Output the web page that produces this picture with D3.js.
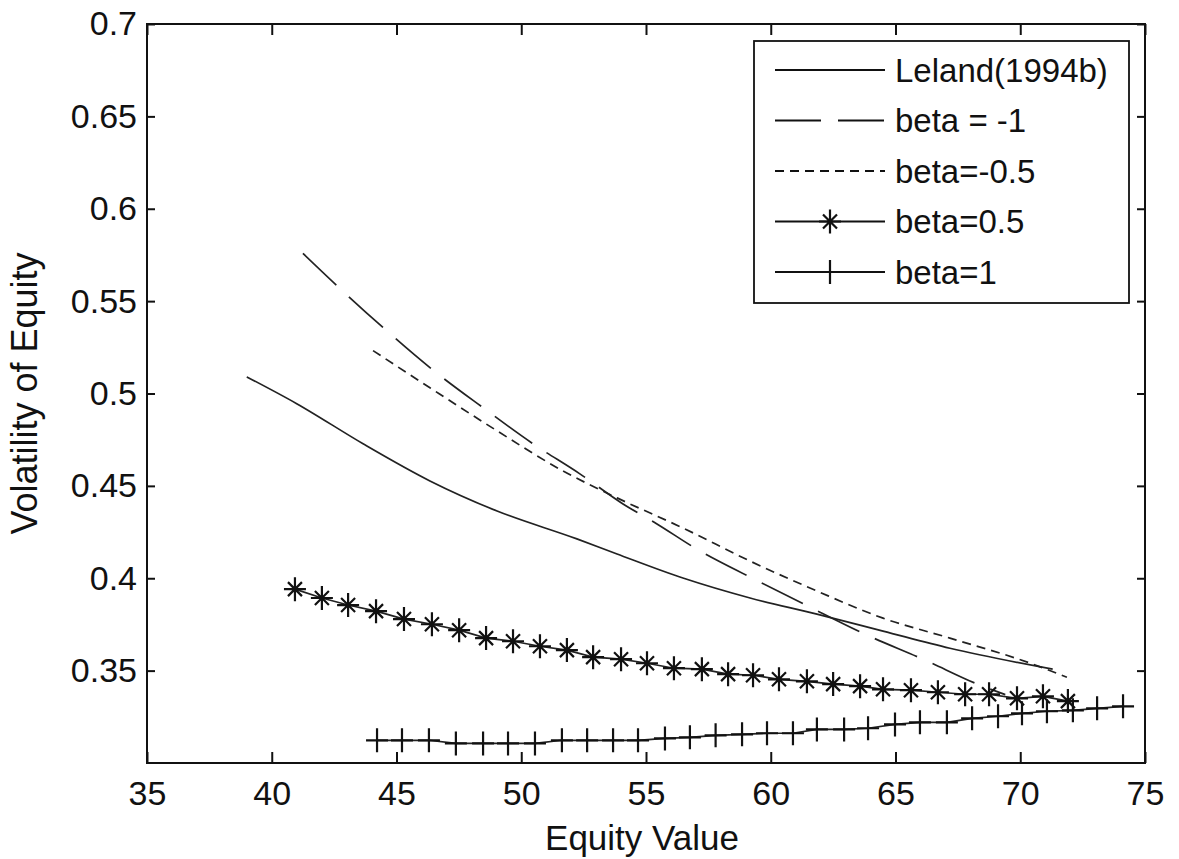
<!DOCTYPE html>
<html lang="en">
<head>
    <meta charset="UTF-8">
    <title>Volatility of Equity</title>
    <script src="https://d3js.org/d3.v7.min.js"></script>
    <style>
        body { margin: 0; background: white; }
        text {
            font-family: 'Liberation Sans', Arial, sans-serif;
            font-size: 33px;
            fill: #111;
        }
    </style>
</head>
<body>
<script>
    const width = 1179;
    const height = 859;
    const margin = {left: 147, right: 34, top: 24, bottom: 96};

    const xTicks = [35, 40, 45, 50, 55, 60, 65, 70, 75];
    const yTicks = [0.35, 0.4, 0.45, 0.5, 0.55, 0.6, 0.65, 0.7];

    // Leland(1994b)
    const lelandX = [39.0, 41.0, 43.66, 46.34, 49.03, 52.23, 53.84, 56.48, 59.17, 61.85, 64.5, 67.18, 71.3];
    const lelandY = [0.509, 0.4945, 0.4728, 0.4527, 0.4364, 0.4213, 0.4131, 0.4001, 0.3893, 0.3806, 0.3714, 0.3621, 0.3508];

    // beta = -1
    const betaM1X = [41.25, 42.6, 44.46, 46.34, 48.47, 50.47, 52.35, 54.08, 55.44, 56.96, 59.25, 61.49, 63.78, 66.1, 68.5, 69.4];
    const betaM1Y = [0.5758, 0.5585, 0.5357, 0.514, 0.4923, 0.4728, 0.4565, 0.4402, 0.4294, 0.4164, 0.4001, 0.3849, 0.3697, 0.3562, 0.3415, 0.337];

    // beta = -0.5
    const betaM05X = [44.06, 46.34, 49.03, 51.67, 53.84, 56.48, 59.17, 61.85, 64.5, 67.18, 70.51, 71.87];
    const betaM05Y = [0.5232, 0.5031, 0.4798, 0.4581, 0.4435, 0.4272, 0.4093, 0.3931, 0.3784, 0.3676, 0.3535, 0.3464];

    // beta = 0.5 (stars)
    const beta05X = [40.93, 42.01, 43.06, 44.18, 45.3, 46.42, 47.51, 48.59, 49.67, 50.75, 51.83, 52.88, 54.0, 55.04, 56.12,
                     57.24, 58.29, 59.29, 60.33, 61.45, 62.5, 63.58, 64.5, 65.62, 66.7, 67.79, 68.75, 69.87, 70.91, 71.91];
    const beta05Y = [0.3941, 0.3893, 0.3855, 0.3822, 0.3779, 0.3751, 0.3719, 0.3676, 0.3659, 0.3632, 0.3611, 0.3573, 0.3562, 0.354, 0.3513,
                     0.3508, 0.3481, 0.3475, 0.3453, 0.3442, 0.3427, 0.3416, 0.3399, 0.3394, 0.3383, 0.3372, 0.3372, 0.335, 0.3361, 0.3335];

    // beta = 1 (plus)
    const beta1X = [44.22, 45.22, 46.3, 47.38, 48.47, 49.47, 50.55, 51.63, 52.64, 53.68, 54.68, 55.76, 56.76, 57.79, 58.85,
                    59.85, 60.89, 61.85, 62.94, 63.9, 64.98, 65.98, 67.06, 68.07, 69.11, 70.07, 71.07, 72.11, 73.08, 74.12];
    const beta1Y = [0.3123, 0.3123, 0.3123, 0.3106, 0.3106, 0.3106, 0.3106, 0.3123, 0.3123, 0.3123, 0.3123, 0.3133, 0.3139, 0.315, 0.3155,
                    0.3161, 0.3161, 0.3182, 0.3182, 0.3188, 0.3209, 0.322, 0.322, 0.3242, 0.3253, 0.3269, 0.328, 0.3285, 0.3296, 0.3307];

    const legendLabels = ['Leland(1994b)', 'beta = -1', 'beta=-0.5', 'beta=0.5', 'beta=1'];

    const zip = (xs, ys) => xs.map((x, i) => ({x: x, y: ys[i]}));

    const series = [
        {name: legendLabels[0], data: zip(lelandX, lelandY), dash: null, marker: null},
        {name: legendLabels[1], data: zip(betaM1X, betaM1Y), dash: '46,17', marker: null},
        {name: legendLabels[2], data: zip(betaM05X, betaM05Y), dash: '9,6', marker: null},
        {name: legendLabels[3], data: zip(beta05X, beta05Y), dash: null, marker: 'star'},
        {name: legendLabels[4], data: zip(beta1X, beta1Y), dash: null, marker: 'plus'}
    ];

    const svg = d3.select('body').append('svg').attr('width', width).attr('height', height);

    const x = d3.scaleLinear().domain([35, 75]).range([margin.left, width - margin.right]);
    const y = d3.scaleLinear().domain([0.3, 0.7]).range([height - margin.bottom, margin.top]);

    const x0 = x.range()[0], x1 = x.range()[1];
    const y0 = y.range()[0], y1 = y.range()[1];

    // axes with inward ticks, MATLAB box style
    svg.append('g')
        .attr('transform', `translate(0,${y0})`)
        .call(d3.axisBottom(x).tickValues(xTicks).tickSize(-11).tickPadding(18).tickFormat(d3.format('d')))
        .call(g => g.select('.domain').remove());

    svg.append('g')
        .attr('transform', `translate(0,${y1})`)
        .call(d3.axisTop(x).tickValues(xTicks).tickSize(-11).tickFormat(''))
        .call(g => g.select('.domain').remove());

    svg.append('g')
        .attr('transform', `translate(${x0},0)`)
        .call(d3.axisLeft(y).tickValues(yTicks).tickSize(-8).tickPadding(10).tickFormat(d => d3.format('')(+d.toFixed(2))))
        .call(g => g.select('.domain').remove());

    svg.append('g')
        .attr('transform', `translate(${x1},0)`)
        .call(d3.axisRight(y).tickValues(yTicks).tickSize(-8).tickFormat(''))
        .call(g => g.select('.domain').remove());

    svg.selectAll('.tick line').attr('stroke', '#111').attr('stroke-width', 2);
    svg.selectAll('.tick text').style('font-size', '34px').attr('fill', '#111');

    svg.append('rect')
        .attr('x', x0).attr('y', y1)
        .attr('width', x1 - x0).attr('height', y0 - y1)
        .attr('fill', 'none').attr('stroke', '#111').attr('stroke-width', 2);

    // axis titles
    svg.append('text')
        .attr('x', (x0 + x1) / 2 - 4)
        .attr('y', 850)
        .attr('text-anchor', 'middle')
        .style('font-size', '35px')
        .text('Equity Value');

    svg.append('text')
        .attr('transform', `translate(37,${(y0 + y1) / 2}) rotate(-90)`)
        .attr('text-anchor', 'middle')
        .style('font-size', '36px')
        .text('Volatility of Equity');

    const smooth = d3.line().x(d => x(d.x)).y(d => y(d.y)).curve(d3.curveMonotoneX);
    const straight = d3.line().x(d => x(d.x)).y(d => y(d.y));

    const drawMarker = (g, type, cx, cy) => {
        const p = d3.path();
        if (type === 'star') {
            p.moveTo(cx, cy - 12); p.lineTo(cx, cy + 12);
            p.moveTo(cx - 11, cy); p.lineTo(cx + 11, cy);
            p.moveTo(cx - 7, cy - 7); p.lineTo(cx + 7, cy + 7);
            p.moveTo(cx - 7, cy + 7); p.lineTo(cx + 7, cy - 7);
        } else {
            p.moveTo(cx, cy - 12); p.lineTo(cx, cy + 12);
            p.moveTo(cx - 11, cy); p.lineTo(cx + 11, cy);
        }
        g.append('path').attr('d', p.toString())
            .attr('stroke', '#111').attr('stroke-width', 2.2).attr('fill', 'none');
    };

    const chart = svg.append('g');

    series.forEach(s => {
        chart.append('path')
            .datum(s.data)
            .attr('d', s.marker ? straight : smooth)
            .attr('fill', 'none')
            .attr('stroke', '#222')
            .attr('stroke-width', 1.7)
            .attr('stroke-dasharray', s.dash);
        if (s.marker) {
            const mg = chart.append('g');
            s.data.forEach(d => drawMarker(mg, s.marker, x(d.x), y(d.y)));
        }
    });

    // legend
    const legend = svg.append('g');
    legend.append('rect')
        .attr('x', 754).attr('y', 41)
        .attr('width', 375).attr('height', 262)
        .attr('fill', 'white').attr('stroke', '#111').attr('stroke-width', 1.8);

    series.forEach((s, i) => {
        const ly = 70 + i * 50.5;
        legend.append('line')
            .attr('x1', 775).attr('x2', 885)
            .attr('y1', ly).attr('y2', ly)
            .attr('stroke', '#111').attr('stroke-width', 1.8)
            .attr('stroke-dasharray', s.dash);
        if (s.marker) drawMarker(legend, s.marker, 830, ly);
        legend.append('text')
            .attr('x', 895).attr('y', ly)
            .attr('dy', '0.36em')
            .text(s.name);
    });
</script>
</body>
</html>
